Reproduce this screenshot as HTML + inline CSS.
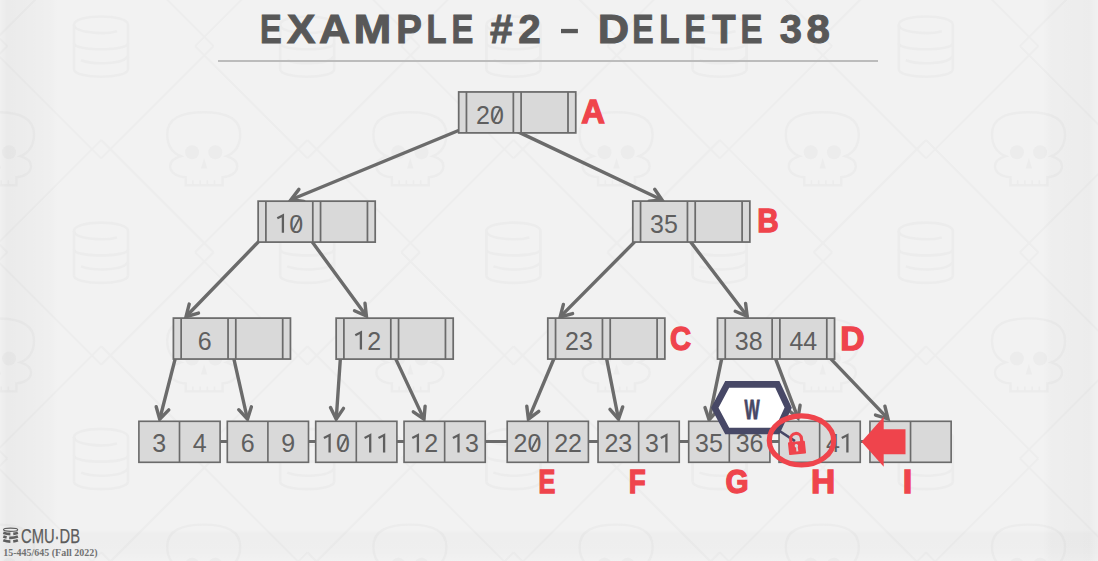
<!DOCTYPE html>
<html><head><meta charset="utf-8"><style>
html,body{margin:0;padding:0;}
body{width:1098px;height:561px;overflow:hidden;position:relative;background:#f2f2f2;font-family:"Liberation Sans",sans-serif;}
.title{position:absolute;left:0;top:0;width:1098px;text-align:center;}
.k{font-family:"Liberation Sans",sans-serif;font-size:25px;fill:#5f5f5f;text-anchor:middle;}
.lab{font-family:"Liberation Sans",sans-serif;font-weight:bold;font-size:32.4px;fill:#ef444c;stroke:#ef444c;stroke-width:1.3px;text-anchor:middle;}
.w{font-family:"Liberation Sans",sans-serif;font-weight:bold;font-size:27.6px;fill:#474866;stroke:#474866;stroke-width:0.9px;text-anchor:middle;}
.logo{font-family:"Liberation Sans",sans-serif;font-size:20.5px;fill:#5c5c5c;stroke:#5c5c5c;stroke-width:0.25px;}
.course{font-family:"Liberation Serif",serif;font-weight:bold;font-size:10.5px;fill:#727272;}
.ttl{font-family:"Liberation Sans",sans-serif;font-weight:bold;font-size:41.5px;fill:#585858;stroke:#585858;stroke-width:1px;}
</style></head><body>
<svg width="1098" height="561" viewBox="0 0 1098 561" style="position:absolute;left:0;top:0">
<defs><linearGradient id="lg" x1="0" x2="1" y1="0" y2="0">
<stop offset="0" stop-color="#000" stop-opacity="0.008"/><stop offset="0.12" stop-color="#000" stop-opacity="0.03"/><stop offset="0.5" stop-color="#000" stop-opacity="0.022"/><stop offset="0.85" stop-color="#000" stop-opacity="0.012"/><stop offset="1" stop-color="#000" stop-opacity="0"/></linearGradient>
<linearGradient id="rg" x1="1" x2="0" y1="0" y2="0"><stop offset="0" stop-color="#000" stop-opacity="0.004"/><stop offset="0.16" stop-color="#000" stop-opacity="0.024"/><stop offset="0.85" stop-color="#000" stop-opacity="0.016"/><stop offset="1" stop-color="#000" stop-opacity="0"/></linearGradient>
<linearGradient id="bg2" x1="0" x2="0" y1="0" y2="1"><stop offset="0" stop-color="#000" stop-opacity="0"/><stop offset="0.15" stop-color="#000" stop-opacity="0.018"/><stop offset="0.7" stop-color="#000" stop-opacity="0.014"/><stop offset="1" stop-color="#000" stop-opacity="0.002"/></linearGradient></defs>
<line x1="-105.0" y1="-66.2" x2="7.3" y2="46.1" stroke="#ededed" stroke-width="2"/>
<line x1="-105.0" y1="140.0" x2="7.3" y2="252.3" stroke="#ededed" stroke-width="2"/>
<line x1="7.3" y1="46.1" x2="-105.0" y2="158.4" stroke="#ededed" stroke-width="2"/>
<line x1="-105.0" y1="346.2" x2="7.3" y2="458.5" stroke="#ededed" stroke-width="2"/>
<line x1="7.3" y1="252.3" x2="-105.0" y2="364.6" stroke="#ededed" stroke-width="2"/>
<line x1="-105.0" y1="552.4" x2="7.3" y2="664.7" stroke="#ededed" stroke-width="2"/>
<line x1="7.3" y1="458.5" x2="-105.0" y2="570.8" stroke="#ededed" stroke-width="2"/>
<line x1="101.2" y1="-66.2" x2="213.5" y2="46.1" stroke="#ededed" stroke-width="2"/>
<line x1="101.2" y1="-66.2" x2="-11.1" y2="46.1" stroke="#ededed" stroke-width="2"/>
<line x1="101.2" y1="140.0" x2="213.5" y2="252.3" stroke="#ededed" stroke-width="2"/>
<line x1="-11.1" y1="46.1" x2="101.2" y2="158.4" stroke="#ededed" stroke-width="2"/>
<line x1="213.5" y1="46.1" x2="101.2" y2="158.4" stroke="#ededed" stroke-width="2"/>
<line x1="101.2" y1="140.0" x2="-11.1" y2="252.3" stroke="#ededed" stroke-width="2"/>
<line x1="101.2" y1="346.2" x2="213.5" y2="458.5" stroke="#ededed" stroke-width="2"/>
<line x1="-11.1" y1="252.3" x2="101.2" y2="364.6" stroke="#ededed" stroke-width="2"/>
<line x1="213.5" y1="252.3" x2="101.2" y2="364.6" stroke="#ededed" stroke-width="2"/>
<line x1="101.2" y1="346.2" x2="-11.1" y2="458.5" stroke="#ededed" stroke-width="2"/>
<line x1="101.2" y1="552.4" x2="213.5" y2="664.7" stroke="#ededed" stroke-width="2"/>
<line x1="-11.1" y1="458.5" x2="101.2" y2="570.8" stroke="#ededed" stroke-width="2"/>
<line x1="213.5" y1="458.5" x2="101.2" y2="570.8" stroke="#ededed" stroke-width="2"/>
<line x1="101.2" y1="552.4" x2="-11.1" y2="664.7" stroke="#ededed" stroke-width="2"/>
<line x1="307.4" y1="-66.2" x2="419.7" y2="46.1" stroke="#ededed" stroke-width="2"/>
<line x1="307.4" y1="-66.2" x2="195.1" y2="46.1" stroke="#ededed" stroke-width="2"/>
<line x1="307.4" y1="140.0" x2="419.7" y2="252.3" stroke="#ededed" stroke-width="2"/>
<line x1="195.1" y1="46.1" x2="307.4" y2="158.4" stroke="#ededed" stroke-width="2"/>
<line x1="419.7" y1="46.1" x2="307.4" y2="158.4" stroke="#ededed" stroke-width="2"/>
<line x1="307.4" y1="140.0" x2="195.1" y2="252.3" stroke="#ededed" stroke-width="2"/>
<line x1="307.4" y1="346.2" x2="419.7" y2="458.5" stroke="#ededed" stroke-width="2"/>
<line x1="195.1" y1="252.3" x2="307.4" y2="364.6" stroke="#ededed" stroke-width="2"/>
<line x1="419.7" y1="252.3" x2="307.4" y2="364.6" stroke="#ededed" stroke-width="2"/>
<line x1="307.4" y1="346.2" x2="195.1" y2="458.5" stroke="#ededed" stroke-width="2"/>
<line x1="307.4" y1="552.4" x2="419.7" y2="664.7" stroke="#ededed" stroke-width="2"/>
<line x1="195.1" y1="458.5" x2="307.4" y2="570.8" stroke="#ededed" stroke-width="2"/>
<line x1="419.7" y1="458.5" x2="307.4" y2="570.8" stroke="#ededed" stroke-width="2"/>
<line x1="307.4" y1="552.4" x2="195.1" y2="664.7" stroke="#ededed" stroke-width="2"/>
<line x1="513.6" y1="-66.2" x2="625.9" y2="46.1" stroke="#ededed" stroke-width="2"/>
<line x1="513.6" y1="-66.2" x2="401.3" y2="46.1" stroke="#ededed" stroke-width="2"/>
<line x1="513.6" y1="140.0" x2="625.9" y2="252.3" stroke="#ededed" stroke-width="2"/>
<line x1="401.3" y1="46.1" x2="513.6" y2="158.4" stroke="#ededed" stroke-width="2"/>
<line x1="625.9" y1="46.1" x2="513.6" y2="158.4" stroke="#ededed" stroke-width="2"/>
<line x1="513.6" y1="140.0" x2="401.3" y2="252.3" stroke="#ededed" stroke-width="2"/>
<line x1="513.6" y1="346.2" x2="625.9" y2="458.5" stroke="#ededed" stroke-width="2"/>
<line x1="401.3" y1="252.3" x2="513.6" y2="364.6" stroke="#ededed" stroke-width="2"/>
<line x1="625.9" y1="252.3" x2="513.6" y2="364.6" stroke="#ededed" stroke-width="2"/>
<line x1="513.6" y1="346.2" x2="401.3" y2="458.5" stroke="#ededed" stroke-width="2"/>
<line x1="513.6" y1="552.4" x2="625.9" y2="664.7" stroke="#ededed" stroke-width="2"/>
<line x1="401.3" y1="458.5" x2="513.6" y2="570.8" stroke="#ededed" stroke-width="2"/>
<line x1="625.9" y1="458.5" x2="513.6" y2="570.8" stroke="#ededed" stroke-width="2"/>
<line x1="513.6" y1="552.4" x2="401.3" y2="664.7" stroke="#ededed" stroke-width="2"/>
<line x1="719.8" y1="-66.2" x2="832.1" y2="46.1" stroke="#ededed" stroke-width="2"/>
<line x1="719.8" y1="-66.2" x2="607.5" y2="46.1" stroke="#ededed" stroke-width="2"/>
<line x1="719.8" y1="140.0" x2="832.1" y2="252.3" stroke="#ededed" stroke-width="2"/>
<line x1="607.5" y1="46.1" x2="719.8" y2="158.4" stroke="#ededed" stroke-width="2"/>
<line x1="832.1" y1="46.1" x2="719.8" y2="158.4" stroke="#ededed" stroke-width="2"/>
<line x1="719.8" y1="140.0" x2="607.5" y2="252.3" stroke="#ededed" stroke-width="2"/>
<line x1="719.8" y1="346.2" x2="832.1" y2="458.5" stroke="#ededed" stroke-width="2"/>
<line x1="607.5" y1="252.3" x2="719.8" y2="364.6" stroke="#ededed" stroke-width="2"/>
<line x1="832.1" y1="252.3" x2="719.8" y2="364.6" stroke="#ededed" stroke-width="2"/>
<line x1="719.8" y1="346.2" x2="607.5" y2="458.5" stroke="#ededed" stroke-width="2"/>
<line x1="719.8" y1="552.4" x2="832.1" y2="664.7" stroke="#ededed" stroke-width="2"/>
<line x1="607.5" y1="458.5" x2="719.8" y2="570.8" stroke="#ededed" stroke-width="2"/>
<line x1="832.1" y1="458.5" x2="719.8" y2="570.8" stroke="#ededed" stroke-width="2"/>
<line x1="719.8" y1="552.4" x2="607.5" y2="664.7" stroke="#ededed" stroke-width="2"/>
<line x1="926.0" y1="-66.2" x2="1038.3" y2="46.1" stroke="#ededed" stroke-width="2"/>
<line x1="926.0" y1="-66.2" x2="813.7" y2="46.1" stroke="#ededed" stroke-width="2"/>
<line x1="926.0" y1="140.0" x2="1038.3" y2="252.3" stroke="#ededed" stroke-width="2"/>
<line x1="813.7" y1="46.1" x2="926.0" y2="158.4" stroke="#ededed" stroke-width="2"/>
<line x1="1038.3" y1="46.1" x2="926.0" y2="158.4" stroke="#ededed" stroke-width="2"/>
<line x1="926.0" y1="140.0" x2="813.7" y2="252.3" stroke="#ededed" stroke-width="2"/>
<line x1="926.0" y1="346.2" x2="1038.3" y2="458.5" stroke="#ededed" stroke-width="2"/>
<line x1="813.7" y1="252.3" x2="926.0" y2="364.6" stroke="#ededed" stroke-width="2"/>
<line x1="1038.3" y1="252.3" x2="926.0" y2="364.6" stroke="#ededed" stroke-width="2"/>
<line x1="926.0" y1="346.2" x2="813.7" y2="458.5" stroke="#ededed" stroke-width="2"/>
<line x1="926.0" y1="552.4" x2="1038.3" y2="664.7" stroke="#ededed" stroke-width="2"/>
<line x1="813.7" y1="458.5" x2="926.0" y2="570.8" stroke="#ededed" stroke-width="2"/>
<line x1="1038.3" y1="458.5" x2="926.0" y2="570.8" stroke="#ededed" stroke-width="2"/>
<line x1="926.0" y1="552.4" x2="813.7" y2="664.7" stroke="#ededed" stroke-width="2"/>
<line x1="1132.2" y1="-66.2" x2="1019.9" y2="46.1" stroke="#ededed" stroke-width="2"/>
<line x1="1019.9" y1="46.1" x2="1132.2" y2="158.4" stroke="#ededed" stroke-width="2"/>
<line x1="1132.2" y1="140.0" x2="1019.9" y2="252.3" stroke="#ededed" stroke-width="2"/>
<line x1="1019.9" y1="252.3" x2="1132.2" y2="364.6" stroke="#ededed" stroke-width="2"/>
<line x1="1132.2" y1="346.2" x2="1019.9" y2="458.5" stroke="#ededed" stroke-width="2"/>
<line x1="1019.9" y1="458.5" x2="1132.2" y2="570.8" stroke="#ededed" stroke-width="2"/>
<line x1="1132.2" y1="552.4" x2="1019.9" y2="664.7" stroke="#ededed" stroke-width="2"/>
<g transform="translate(-39.0,-94.0)"><path d="M13.7 44 C4 40 0 32 0 22 C0 6 14 0 36.5 0 C59 0 73 6 73 22 C73 32 69 40 59.3 44 C66 46 70 49 70 54 C70 60 64 64.5 55.4 65 L55.4 73 L18.5 73 L18.5 65 C9 64.5 3 60 3 54 C3 49 7 46 13.7 44 Z" fill="none" stroke="#ececec" stroke-width="2.4"/><circle cx="24.9" cy="40.1" r="7" fill="#ececec"/><circle cx="48.1" cy="40.1" r="7" fill="#ececec"/><path d="M36.9 45.7 L33.7 56.2 L40.1 56.2 Z" fill="#ececec"/><path d="M25.7 73 v-5 M32.9 73 v-5 M40.1 73 v-5 M47.3 73 v-5" stroke="#ececec" stroke-width="1.5"/></g>
<g transform="translate(-39.0,112.2)"><path d="M13.7 44 C4 40 0 32 0 22 C0 6 14 0 36.5 0 C59 0 73 6 73 22 C73 32 69 40 59.3 44 C66 46 70 49 70 54 C70 60 64 64.5 55.4 65 L55.4 73 L18.5 73 L18.5 65 C9 64.5 3 60 3 54 C3 49 7 46 13.7 44 Z" fill="none" stroke="#ececec" stroke-width="2.4"/><circle cx="24.9" cy="40.1" r="7" fill="#ececec"/><circle cx="48.1" cy="40.1" r="7" fill="#ececec"/><path d="M36.9 45.7 L33.7 56.2 L40.1 56.2 Z" fill="#ececec"/><path d="M25.7 73 v-5 M32.9 73 v-5 M40.1 73 v-5 M47.3 73 v-5" stroke="#ececec" stroke-width="1.5"/></g>
<g transform="translate(-39.0,318.4)"><path d="M13.7 44 C4 40 0 32 0 22 C0 6 14 0 36.5 0 C59 0 73 6 73 22 C73 32 69 40 59.3 44 C66 46 70 49 70 54 C70 60 64 64.5 55.4 65 L55.4 73 L18.5 73 L18.5 65 C9 64.5 3 60 3 54 C3 49 7 46 13.7 44 Z" fill="none" stroke="#ececec" stroke-width="2.4"/><circle cx="24.9" cy="40.1" r="7" fill="#ececec"/><circle cx="48.1" cy="40.1" r="7" fill="#ececec"/><path d="M36.9 45.7 L33.7 56.2 L40.1 56.2 Z" fill="#ececec"/><path d="M25.7 73 v-5 M32.9 73 v-5 M40.1 73 v-5 M47.3 73 v-5" stroke="#ececec" stroke-width="1.5"/></g>
<g transform="translate(-39.0,524.6)"><path d="M13.7 44 C4 40 0 32 0 22 C0 6 14 0 36.5 0 C59 0 73 6 73 22 C73 32 69 40 59.3 44 C66 46 70 49 70 54 C70 60 64 64.5 55.4 65 L55.4 73 L18.5 73 L18.5 65 C9 64.5 3 60 3 54 C3 49 7 46 13.7 44 Z" fill="none" stroke="#ececec" stroke-width="2.4"/><circle cx="24.9" cy="40.1" r="7" fill="#ececec"/><circle cx="48.1" cy="40.1" r="7" fill="#ececec"/><path d="M36.9 45.7 L33.7 56.2 L40.1 56.2 Z" fill="#ececec"/><path d="M25.7 73 v-5 M32.9 73 v-5 M40.1 73 v-5 M47.3 73 v-5" stroke="#ececec" stroke-width="1.5"/></g>
<g transform="translate(167.2,-94.0)"><path d="M13.7 44 C4 40 0 32 0 22 C0 6 14 0 36.5 0 C59 0 73 6 73 22 C73 32 69 40 59.3 44 C66 46 70 49 70 54 C70 60 64 64.5 55.4 65 L55.4 73 L18.5 73 L18.5 65 C9 64.5 3 60 3 54 C3 49 7 46 13.7 44 Z" fill="none" stroke="#ececec" stroke-width="2.4"/><circle cx="24.9" cy="40.1" r="7" fill="#ececec"/><circle cx="48.1" cy="40.1" r="7" fill="#ececec"/><path d="M36.9 45.7 L33.7 56.2 L40.1 56.2 Z" fill="#ececec"/><path d="M25.7 73 v-5 M32.9 73 v-5 M40.1 73 v-5 M47.3 73 v-5" stroke="#ececec" stroke-width="1.5"/></g>
<g transform="translate(73.0,15.2)"><g fill="none" stroke="#ececec" stroke-width="2.6"><path d="M1 9.5 C1 -1.5 55 -1.5 55 9.5"/><path d="M1 9.5 C1 17 30 20 44 16"/><path d="M1 28 C1 36 55 36 55 28"/><path d="M8 45 C22 50 50 49 55 41"/><path d="M1 54 C1 64 55 64 55 54"/><path d="M1 9.5 V54 M55 9.5 V54"/></g></g>
<g transform="translate(167.2,112.2)"><path d="M13.7 44 C4 40 0 32 0 22 C0 6 14 0 36.5 0 C59 0 73 6 73 22 C73 32 69 40 59.3 44 C66 46 70 49 70 54 C70 60 64 64.5 55.4 65 L55.4 73 L18.5 73 L18.5 65 C9 64.5 3 60 3 54 C3 49 7 46 13.7 44 Z" fill="none" stroke="#ececec" stroke-width="2.4"/><circle cx="24.9" cy="40.1" r="7" fill="#ececec"/><circle cx="48.1" cy="40.1" r="7" fill="#ececec"/><path d="M36.9 45.7 L33.7 56.2 L40.1 56.2 Z" fill="#ececec"/><path d="M25.7 73 v-5 M32.9 73 v-5 M40.1 73 v-5 M47.3 73 v-5" stroke="#ececec" stroke-width="1.5"/></g>
<g transform="translate(73.0,221.4)"><g fill="none" stroke="#ececec" stroke-width="2.6"><path d="M1 9.5 C1 -1.5 55 -1.5 55 9.5"/><path d="M1 9.5 C1 17 30 20 44 16"/><path d="M1 28 C1 36 55 36 55 28"/><path d="M8 45 C22 50 50 49 55 41"/><path d="M1 54 C1 64 55 64 55 54"/><path d="M1 9.5 V54 M55 9.5 V54"/></g></g>
<g transform="translate(167.2,318.4)"><path d="M13.7 44 C4 40 0 32 0 22 C0 6 14 0 36.5 0 C59 0 73 6 73 22 C73 32 69 40 59.3 44 C66 46 70 49 70 54 C70 60 64 64.5 55.4 65 L55.4 73 L18.5 73 L18.5 65 C9 64.5 3 60 3 54 C3 49 7 46 13.7 44 Z" fill="none" stroke="#ececec" stroke-width="2.4"/><circle cx="24.9" cy="40.1" r="7" fill="#ececec"/><circle cx="48.1" cy="40.1" r="7" fill="#ececec"/><path d="M36.9 45.7 L33.7 56.2 L40.1 56.2 Z" fill="#ececec"/><path d="M25.7 73 v-5 M32.9 73 v-5 M40.1 73 v-5 M47.3 73 v-5" stroke="#ececec" stroke-width="1.5"/></g>
<g transform="translate(73.0,427.6)"><g fill="none" stroke="#ececec" stroke-width="2.6"><path d="M1 9.5 C1 -1.5 55 -1.5 55 9.5"/><path d="M1 9.5 C1 17 30 20 44 16"/><path d="M1 28 C1 36 55 36 55 28"/><path d="M8 45 C22 50 50 49 55 41"/><path d="M1 54 C1 64 55 64 55 54"/><path d="M1 9.5 V54 M55 9.5 V54"/></g></g>
<g transform="translate(167.2,524.6)"><path d="M13.7 44 C4 40 0 32 0 22 C0 6 14 0 36.5 0 C59 0 73 6 73 22 C73 32 69 40 59.3 44 C66 46 70 49 70 54 C70 60 64 64.5 55.4 65 L55.4 73 L18.5 73 L18.5 65 C9 64.5 3 60 3 54 C3 49 7 46 13.7 44 Z" fill="none" stroke="#ececec" stroke-width="2.4"/><circle cx="24.9" cy="40.1" r="7" fill="#ececec"/><circle cx="48.1" cy="40.1" r="7" fill="#ececec"/><path d="M36.9 45.7 L33.7 56.2 L40.1 56.2 Z" fill="#ececec"/><path d="M25.7 73 v-5 M32.9 73 v-5 M40.1 73 v-5 M47.3 73 v-5" stroke="#ececec" stroke-width="1.5"/></g>
<g transform="translate(373.4,-94.0)"><path d="M13.7 44 C4 40 0 32 0 22 C0 6 14 0 36.5 0 C59 0 73 6 73 22 C73 32 69 40 59.3 44 C66 46 70 49 70 54 C70 60 64 64.5 55.4 65 L55.4 73 L18.5 73 L18.5 65 C9 64.5 3 60 3 54 C3 49 7 46 13.7 44 Z" fill="none" stroke="#ececec" stroke-width="2.4"/><circle cx="24.9" cy="40.1" r="7" fill="#ececec"/><circle cx="48.1" cy="40.1" r="7" fill="#ececec"/><path d="M36.9 45.7 L33.7 56.2 L40.1 56.2 Z" fill="#ececec"/><path d="M25.7 73 v-5 M32.9 73 v-5 M40.1 73 v-5 M47.3 73 v-5" stroke="#ececec" stroke-width="1.5"/></g>
<g transform="translate(279.2,15.2)"><g fill="none" stroke="#ececec" stroke-width="2.6"><path d="M1 9.5 C1 -1.5 55 -1.5 55 9.5"/><path d="M1 9.5 C1 17 30 20 44 16"/><path d="M1 28 C1 36 55 36 55 28"/><path d="M8 45 C22 50 50 49 55 41"/><path d="M1 54 C1 64 55 64 55 54"/><path d="M1 9.5 V54 M55 9.5 V54"/></g></g>
<g transform="translate(373.4,112.2)"><path d="M13.7 44 C4 40 0 32 0 22 C0 6 14 0 36.5 0 C59 0 73 6 73 22 C73 32 69 40 59.3 44 C66 46 70 49 70 54 C70 60 64 64.5 55.4 65 L55.4 73 L18.5 73 L18.5 65 C9 64.5 3 60 3 54 C3 49 7 46 13.7 44 Z" fill="none" stroke="#ececec" stroke-width="2.4"/><circle cx="24.9" cy="40.1" r="7" fill="#ececec"/><circle cx="48.1" cy="40.1" r="7" fill="#ececec"/><path d="M36.9 45.7 L33.7 56.2 L40.1 56.2 Z" fill="#ececec"/><path d="M25.7 73 v-5 M32.9 73 v-5 M40.1 73 v-5 M47.3 73 v-5" stroke="#ececec" stroke-width="1.5"/></g>
<g transform="translate(279.2,221.4)"><g fill="none" stroke="#ececec" stroke-width="2.6"><path d="M1 9.5 C1 -1.5 55 -1.5 55 9.5"/><path d="M1 9.5 C1 17 30 20 44 16"/><path d="M1 28 C1 36 55 36 55 28"/><path d="M8 45 C22 50 50 49 55 41"/><path d="M1 54 C1 64 55 64 55 54"/><path d="M1 9.5 V54 M55 9.5 V54"/></g></g>
<g transform="translate(373.4,318.4)"><path d="M13.7 44 C4 40 0 32 0 22 C0 6 14 0 36.5 0 C59 0 73 6 73 22 C73 32 69 40 59.3 44 C66 46 70 49 70 54 C70 60 64 64.5 55.4 65 L55.4 73 L18.5 73 L18.5 65 C9 64.5 3 60 3 54 C3 49 7 46 13.7 44 Z" fill="none" stroke="#ececec" stroke-width="2.4"/><circle cx="24.9" cy="40.1" r="7" fill="#ececec"/><circle cx="48.1" cy="40.1" r="7" fill="#ececec"/><path d="M36.9 45.7 L33.7 56.2 L40.1 56.2 Z" fill="#ececec"/><path d="M25.7 73 v-5 M32.9 73 v-5 M40.1 73 v-5 M47.3 73 v-5" stroke="#ececec" stroke-width="1.5"/></g>
<g transform="translate(279.2,427.6)"><g fill="none" stroke="#ececec" stroke-width="2.6"><path d="M1 9.5 C1 -1.5 55 -1.5 55 9.5"/><path d="M1 9.5 C1 17 30 20 44 16"/><path d="M1 28 C1 36 55 36 55 28"/><path d="M8 45 C22 50 50 49 55 41"/><path d="M1 54 C1 64 55 64 55 54"/><path d="M1 9.5 V54 M55 9.5 V54"/></g></g>
<g transform="translate(373.4,524.6)"><path d="M13.7 44 C4 40 0 32 0 22 C0 6 14 0 36.5 0 C59 0 73 6 73 22 C73 32 69 40 59.3 44 C66 46 70 49 70 54 C70 60 64 64.5 55.4 65 L55.4 73 L18.5 73 L18.5 65 C9 64.5 3 60 3 54 C3 49 7 46 13.7 44 Z" fill="none" stroke="#ececec" stroke-width="2.4"/><circle cx="24.9" cy="40.1" r="7" fill="#ececec"/><circle cx="48.1" cy="40.1" r="7" fill="#ececec"/><path d="M36.9 45.7 L33.7 56.2 L40.1 56.2 Z" fill="#ececec"/><path d="M25.7 73 v-5 M32.9 73 v-5 M40.1 73 v-5 M47.3 73 v-5" stroke="#ececec" stroke-width="1.5"/></g>
<g transform="translate(579.6,-94.0)"><path d="M13.7 44 C4 40 0 32 0 22 C0 6 14 0 36.5 0 C59 0 73 6 73 22 C73 32 69 40 59.3 44 C66 46 70 49 70 54 C70 60 64 64.5 55.4 65 L55.4 73 L18.5 73 L18.5 65 C9 64.5 3 60 3 54 C3 49 7 46 13.7 44 Z" fill="none" stroke="#ececec" stroke-width="2.4"/><circle cx="24.9" cy="40.1" r="7" fill="#ececec"/><circle cx="48.1" cy="40.1" r="7" fill="#ececec"/><path d="M36.9 45.7 L33.7 56.2 L40.1 56.2 Z" fill="#ececec"/><path d="M25.7 73 v-5 M32.9 73 v-5 M40.1 73 v-5 M47.3 73 v-5" stroke="#ececec" stroke-width="1.5"/></g>
<g transform="translate(485.4,15.2)"><g fill="none" stroke="#ececec" stroke-width="2.6"><path d="M1 9.5 C1 -1.5 55 -1.5 55 9.5"/><path d="M1 9.5 C1 17 30 20 44 16"/><path d="M1 28 C1 36 55 36 55 28"/><path d="M8 45 C22 50 50 49 55 41"/><path d="M1 54 C1 64 55 64 55 54"/><path d="M1 9.5 V54 M55 9.5 V54"/></g></g>
<g transform="translate(579.6,112.2)"><path d="M13.7 44 C4 40 0 32 0 22 C0 6 14 0 36.5 0 C59 0 73 6 73 22 C73 32 69 40 59.3 44 C66 46 70 49 70 54 C70 60 64 64.5 55.4 65 L55.4 73 L18.5 73 L18.5 65 C9 64.5 3 60 3 54 C3 49 7 46 13.7 44 Z" fill="none" stroke="#ececec" stroke-width="2.4"/><circle cx="24.9" cy="40.1" r="7" fill="#ececec"/><circle cx="48.1" cy="40.1" r="7" fill="#ececec"/><path d="M36.9 45.7 L33.7 56.2 L40.1 56.2 Z" fill="#ececec"/><path d="M25.7 73 v-5 M32.9 73 v-5 M40.1 73 v-5 M47.3 73 v-5" stroke="#ececec" stroke-width="1.5"/></g>
<g transform="translate(485.4,221.4)"><g fill="none" stroke="#ececec" stroke-width="2.6"><path d="M1 9.5 C1 -1.5 55 -1.5 55 9.5"/><path d="M1 9.5 C1 17 30 20 44 16"/><path d="M1 28 C1 36 55 36 55 28"/><path d="M8 45 C22 50 50 49 55 41"/><path d="M1 54 C1 64 55 64 55 54"/><path d="M1 9.5 V54 M55 9.5 V54"/></g></g>
<g transform="translate(579.6,318.4)"><path d="M13.7 44 C4 40 0 32 0 22 C0 6 14 0 36.5 0 C59 0 73 6 73 22 C73 32 69 40 59.3 44 C66 46 70 49 70 54 C70 60 64 64.5 55.4 65 L55.4 73 L18.5 73 L18.5 65 C9 64.5 3 60 3 54 C3 49 7 46 13.7 44 Z" fill="none" stroke="#ececec" stroke-width="2.4"/><circle cx="24.9" cy="40.1" r="7" fill="#ececec"/><circle cx="48.1" cy="40.1" r="7" fill="#ececec"/><path d="M36.9 45.7 L33.7 56.2 L40.1 56.2 Z" fill="#ececec"/><path d="M25.7 73 v-5 M32.9 73 v-5 M40.1 73 v-5 M47.3 73 v-5" stroke="#ececec" stroke-width="1.5"/></g>
<g transform="translate(485.4,427.6)"><g fill="none" stroke="#ececec" stroke-width="2.6"><path d="M1 9.5 C1 -1.5 55 -1.5 55 9.5"/><path d="M1 9.5 C1 17 30 20 44 16"/><path d="M1 28 C1 36 55 36 55 28"/><path d="M8 45 C22 50 50 49 55 41"/><path d="M1 54 C1 64 55 64 55 54"/><path d="M1 9.5 V54 M55 9.5 V54"/></g></g>
<g transform="translate(579.6,524.6)"><path d="M13.7 44 C4 40 0 32 0 22 C0 6 14 0 36.5 0 C59 0 73 6 73 22 C73 32 69 40 59.3 44 C66 46 70 49 70 54 C70 60 64 64.5 55.4 65 L55.4 73 L18.5 73 L18.5 65 C9 64.5 3 60 3 54 C3 49 7 46 13.7 44 Z" fill="none" stroke="#ececec" stroke-width="2.4"/><circle cx="24.9" cy="40.1" r="7" fill="#ececec"/><circle cx="48.1" cy="40.1" r="7" fill="#ececec"/><path d="M36.9 45.7 L33.7 56.2 L40.1 56.2 Z" fill="#ececec"/><path d="M25.7 73 v-5 M32.9 73 v-5 M40.1 73 v-5 M47.3 73 v-5" stroke="#ececec" stroke-width="1.5"/></g>
<g transform="translate(785.8,-94.0)"><path d="M13.7 44 C4 40 0 32 0 22 C0 6 14 0 36.5 0 C59 0 73 6 73 22 C73 32 69 40 59.3 44 C66 46 70 49 70 54 C70 60 64 64.5 55.4 65 L55.4 73 L18.5 73 L18.5 65 C9 64.5 3 60 3 54 C3 49 7 46 13.7 44 Z" fill="none" stroke="#ececec" stroke-width="2.4"/><circle cx="24.9" cy="40.1" r="7" fill="#ececec"/><circle cx="48.1" cy="40.1" r="7" fill="#ececec"/><path d="M36.9 45.7 L33.7 56.2 L40.1 56.2 Z" fill="#ececec"/><path d="M25.7 73 v-5 M32.9 73 v-5 M40.1 73 v-5 M47.3 73 v-5" stroke="#ececec" stroke-width="1.5"/></g>
<g transform="translate(691.6,15.2)"><g fill="none" stroke="#ececec" stroke-width="2.6"><path d="M1 9.5 C1 -1.5 55 -1.5 55 9.5"/><path d="M1 9.5 C1 17 30 20 44 16"/><path d="M1 28 C1 36 55 36 55 28"/><path d="M8 45 C22 50 50 49 55 41"/><path d="M1 54 C1 64 55 64 55 54"/><path d="M1 9.5 V54 M55 9.5 V54"/></g></g>
<g transform="translate(785.8,112.2)"><path d="M13.7 44 C4 40 0 32 0 22 C0 6 14 0 36.5 0 C59 0 73 6 73 22 C73 32 69 40 59.3 44 C66 46 70 49 70 54 C70 60 64 64.5 55.4 65 L55.4 73 L18.5 73 L18.5 65 C9 64.5 3 60 3 54 C3 49 7 46 13.7 44 Z" fill="none" stroke="#ececec" stroke-width="2.4"/><circle cx="24.9" cy="40.1" r="7" fill="#ececec"/><circle cx="48.1" cy="40.1" r="7" fill="#ececec"/><path d="M36.9 45.7 L33.7 56.2 L40.1 56.2 Z" fill="#ececec"/><path d="M25.7 73 v-5 M32.9 73 v-5 M40.1 73 v-5 M47.3 73 v-5" stroke="#ececec" stroke-width="1.5"/></g>
<g transform="translate(691.6,221.4)"><g fill="none" stroke="#ececec" stroke-width="2.6"><path d="M1 9.5 C1 -1.5 55 -1.5 55 9.5"/><path d="M1 9.5 C1 17 30 20 44 16"/><path d="M1 28 C1 36 55 36 55 28"/><path d="M8 45 C22 50 50 49 55 41"/><path d="M1 54 C1 64 55 64 55 54"/><path d="M1 9.5 V54 M55 9.5 V54"/></g></g>
<g transform="translate(785.8,318.4)"><path d="M13.7 44 C4 40 0 32 0 22 C0 6 14 0 36.5 0 C59 0 73 6 73 22 C73 32 69 40 59.3 44 C66 46 70 49 70 54 C70 60 64 64.5 55.4 65 L55.4 73 L18.5 73 L18.5 65 C9 64.5 3 60 3 54 C3 49 7 46 13.7 44 Z" fill="none" stroke="#ececec" stroke-width="2.4"/><circle cx="24.9" cy="40.1" r="7" fill="#ececec"/><circle cx="48.1" cy="40.1" r="7" fill="#ececec"/><path d="M36.9 45.7 L33.7 56.2 L40.1 56.2 Z" fill="#ececec"/><path d="M25.7 73 v-5 M32.9 73 v-5 M40.1 73 v-5 M47.3 73 v-5" stroke="#ececec" stroke-width="1.5"/></g>
<g transform="translate(691.6,427.6)"><g fill="none" stroke="#ececec" stroke-width="2.6"><path d="M1 9.5 C1 -1.5 55 -1.5 55 9.5"/><path d="M1 9.5 C1 17 30 20 44 16"/><path d="M1 28 C1 36 55 36 55 28"/><path d="M8 45 C22 50 50 49 55 41"/><path d="M1 54 C1 64 55 64 55 54"/><path d="M1 9.5 V54 M55 9.5 V54"/></g></g>
<g transform="translate(785.8,524.6)"><path d="M13.7 44 C4 40 0 32 0 22 C0 6 14 0 36.5 0 C59 0 73 6 73 22 C73 32 69 40 59.3 44 C66 46 70 49 70 54 C70 60 64 64.5 55.4 65 L55.4 73 L18.5 73 L18.5 65 C9 64.5 3 60 3 54 C3 49 7 46 13.7 44 Z" fill="none" stroke="#ececec" stroke-width="2.4"/><circle cx="24.9" cy="40.1" r="7" fill="#ececec"/><circle cx="48.1" cy="40.1" r="7" fill="#ececec"/><path d="M36.9 45.7 L33.7 56.2 L40.1 56.2 Z" fill="#ececec"/><path d="M25.7 73 v-5 M32.9 73 v-5 M40.1 73 v-5 M47.3 73 v-5" stroke="#ececec" stroke-width="1.5"/></g>
<g transform="translate(992.0,-94.0)"><path d="M13.7 44 C4 40 0 32 0 22 C0 6 14 0 36.5 0 C59 0 73 6 73 22 C73 32 69 40 59.3 44 C66 46 70 49 70 54 C70 60 64 64.5 55.4 65 L55.4 73 L18.5 73 L18.5 65 C9 64.5 3 60 3 54 C3 49 7 46 13.7 44 Z" fill="none" stroke="#ececec" stroke-width="2.4"/><circle cx="24.9" cy="40.1" r="7" fill="#ececec"/><circle cx="48.1" cy="40.1" r="7" fill="#ececec"/><path d="M36.9 45.7 L33.7 56.2 L40.1 56.2 Z" fill="#ececec"/><path d="M25.7 73 v-5 M32.9 73 v-5 M40.1 73 v-5 M47.3 73 v-5" stroke="#ececec" stroke-width="1.5"/></g>
<g transform="translate(897.8,15.2)"><g fill="none" stroke="#ececec" stroke-width="2.6"><path d="M1 9.5 C1 -1.5 55 -1.5 55 9.5"/><path d="M1 9.5 C1 17 30 20 44 16"/><path d="M1 28 C1 36 55 36 55 28"/><path d="M8 45 C22 50 50 49 55 41"/><path d="M1 54 C1 64 55 64 55 54"/><path d="M1 9.5 V54 M55 9.5 V54"/></g></g>
<g transform="translate(992.0,112.2)"><path d="M13.7 44 C4 40 0 32 0 22 C0 6 14 0 36.5 0 C59 0 73 6 73 22 C73 32 69 40 59.3 44 C66 46 70 49 70 54 C70 60 64 64.5 55.4 65 L55.4 73 L18.5 73 L18.5 65 C9 64.5 3 60 3 54 C3 49 7 46 13.7 44 Z" fill="none" stroke="#ececec" stroke-width="2.4"/><circle cx="24.9" cy="40.1" r="7" fill="#ececec"/><circle cx="48.1" cy="40.1" r="7" fill="#ececec"/><path d="M36.9 45.7 L33.7 56.2 L40.1 56.2 Z" fill="#ececec"/><path d="M25.7 73 v-5 M32.9 73 v-5 M40.1 73 v-5 M47.3 73 v-5" stroke="#ececec" stroke-width="1.5"/></g>
<g transform="translate(897.8,221.4)"><g fill="none" stroke="#ececec" stroke-width="2.6"><path d="M1 9.5 C1 -1.5 55 -1.5 55 9.5"/><path d="M1 9.5 C1 17 30 20 44 16"/><path d="M1 28 C1 36 55 36 55 28"/><path d="M8 45 C22 50 50 49 55 41"/><path d="M1 54 C1 64 55 64 55 54"/><path d="M1 9.5 V54 M55 9.5 V54"/></g></g>
<g transform="translate(992.0,318.4)"><path d="M13.7 44 C4 40 0 32 0 22 C0 6 14 0 36.5 0 C59 0 73 6 73 22 C73 32 69 40 59.3 44 C66 46 70 49 70 54 C70 60 64 64.5 55.4 65 L55.4 73 L18.5 73 L18.5 65 C9 64.5 3 60 3 54 C3 49 7 46 13.7 44 Z" fill="none" stroke="#ececec" stroke-width="2.4"/><circle cx="24.9" cy="40.1" r="7" fill="#ececec"/><circle cx="48.1" cy="40.1" r="7" fill="#ececec"/><path d="M36.9 45.7 L33.7 56.2 L40.1 56.2 Z" fill="#ececec"/><path d="M25.7 73 v-5 M32.9 73 v-5 M40.1 73 v-5 M47.3 73 v-5" stroke="#ececec" stroke-width="1.5"/></g>
<g transform="translate(897.8,427.6)"><g fill="none" stroke="#ececec" stroke-width="2.6"><path d="M1 9.5 C1 -1.5 55 -1.5 55 9.5"/><path d="M1 9.5 C1 17 30 20 44 16"/><path d="M1 28 C1 36 55 36 55 28"/><path d="M8 45 C22 50 50 49 55 41"/><path d="M1 54 C1 64 55 64 55 54"/><path d="M1 9.5 V54 M55 9.5 V54"/></g></g>
<g transform="translate(992.0,524.6)"><path d="M13.7 44 C4 40 0 32 0 22 C0 6 14 0 36.5 0 C59 0 73 6 73 22 C73 32 69 40 59.3 44 C66 46 70 49 70 54 C70 60 64 64.5 55.4 65 L55.4 73 L18.5 73 L18.5 65 C9 64.5 3 60 3 54 C3 49 7 46 13.7 44 Z" fill="none" stroke="#ececec" stroke-width="2.4"/><circle cx="24.9" cy="40.1" r="7" fill="#ececec"/><circle cx="48.1" cy="40.1" r="7" fill="#ececec"/><path d="M36.9 45.7 L33.7 56.2 L40.1 56.2 Z" fill="#ececec"/><path d="M25.7 73 v-5 M32.9 73 v-5 M40.1 73 v-5 M47.3 73 v-5" stroke="#ececec" stroke-width="1.5"/></g>
<g transform="translate(1104.0,15.2)"><g fill="none" stroke="#ececec" stroke-width="2.6"><path d="M1 9.5 C1 -1.5 55 -1.5 55 9.5"/><path d="M1 9.5 C1 17 30 20 44 16"/><path d="M1 28 C1 36 55 36 55 28"/><path d="M8 45 C22 50 50 49 55 41"/><path d="M1 54 C1 64 55 64 55 54"/><path d="M1 9.5 V54 M55 9.5 V54"/></g></g>
<g transform="translate(1104.0,221.4)"><g fill="none" stroke="#ececec" stroke-width="2.6"><path d="M1 9.5 C1 -1.5 55 -1.5 55 9.5"/><path d="M1 9.5 C1 17 30 20 44 16"/><path d="M1 28 C1 36 55 36 55 28"/><path d="M8 45 C22 50 50 49 55 41"/><path d="M1 54 C1 64 55 64 55 54"/><path d="M1 9.5 V54 M55 9.5 V54"/></g></g>
<g transform="translate(1104.0,427.6)"><g fill="none" stroke="#ececec" stroke-width="2.6"><path d="M1 9.5 C1 -1.5 55 -1.5 55 9.5"/><path d="M1 9.5 C1 17 30 20 44 16"/><path d="M1 28 C1 36 55 36 55 28"/><path d="M8 45 C22 50 50 49 55 41"/><path d="M1 54 C1 64 55 64 55 54"/><path d="M1 9.5 V54 M55 9.5 V54"/></g></g>
<rect x="0" y="0" width="58" height="561" fill="url(#lg)"/>
<rect x="1043" y="0" width="55" height="561" fill="url(#rg)"/>
<rect x="0" y="529" width="1098" height="32" fill="url(#bg2)"/>
<rect x="218" y="60" width="660" height="2" fill="#bcbcbc"/>
<rect x="220.1" y="440" width="7.2" height="3" fill="#6b6b6b"/>
<rect x="308.5" y="440" width="7.2" height="3" fill="#6b6b6b"/>
<rect x="396.9" y="440" width="7.2" height="3" fill="#6b6b6b"/>
<rect x="485.2" y="440" width="21.9" height="3" fill="#6b6b6b"/>
<rect x="588.4" y="440" width="9.6" height="3" fill="#6b6b6b"/>
<rect x="679.2" y="440" width="9.5" height="3" fill="#6b6b6b"/>
<rect x="769.9" y="440" width="9.1" height="3" fill="#6b6b6b"/>
<rect x="860.2" y="440" width="9.7" height="3" fill="#6b6b6b"/>
<line x1="464.0" y1="128.2" x2="292.1" y2="199.2" stroke="#6b6b6b" stroke-width="3.4" stroke-linecap="round"/>
<polyline points="303.9,201.4 291.0,199.7 298.9,189.4" fill="none" stroke="#6b6b6b" stroke-width="3.4" stroke-linecap="round" stroke-linejoin="miter"/>
<line x1="515.5" y1="130.6" x2="661.0" y2="199.5" stroke="#6b6b6b" stroke-width="3.4" stroke-linecap="round"/>
<polyline points="654.7,189.3 662.1,200.0 649.1,201.1" fill="none" stroke="#6b6b6b" stroke-width="3.4" stroke-linecap="round" stroke-linejoin="miter"/>
<line x1="262.4" y1="237.7" x2="186.8" y2="315.8" stroke="#6b6b6b" stroke-width="3.4" stroke-linecap="round"/>
<polyline points="198.5,313.1 186.0,316.7 189.2,304.1" fill="none" stroke="#6b6b6b" stroke-width="3.4" stroke-linecap="round" stroke-linejoin="miter"/>
<line x1="309.2" y1="237.8" x2="365.7" y2="315.1" stroke="#6b6b6b" stroke-width="3.4" stroke-linecap="round"/>
<polyline points="365.0,303.2 366.4,316.1 354.5,310.8" fill="none" stroke="#6b6b6b" stroke-width="3.4" stroke-linecap="round" stroke-linejoin="miter"/>
<line x1="638.6" y1="237.9" x2="560.9" y2="316.1" stroke="#6b6b6b" stroke-width="3.4" stroke-linecap="round"/>
<polyline points="572.6,313.6 560.1,317.0 563.4,304.4" fill="none" stroke="#6b6b6b" stroke-width="3.4" stroke-linecap="round" stroke-linejoin="miter"/>
<line x1="687.2" y1="237.4" x2="746.5" y2="315.3" stroke="#6b6b6b" stroke-width="3.4" stroke-linecap="round"/>
<polyline points="745.6,303.4 747.2,316.3 735.2,311.3" fill="none" stroke="#6b6b6b" stroke-width="3.4" stroke-linecap="round" stroke-linejoin="miter"/>
<line x1="176.5" y1="353.7" x2="160.0" y2="418.0" stroke="#6b6b6b" stroke-width="3.4" stroke-linecap="round"/>
<polyline points="168.8,409.9 159.7,419.2 156.2,406.7" fill="none" stroke="#6b6b6b" stroke-width="3.4" stroke-linecap="round" stroke-linejoin="miter"/>
<line x1="232.7" y1="353.6" x2="247.2" y2="418.0" stroke="#6b6b6b" stroke-width="3.4" stroke-linecap="round"/>
<polyline points="251.4,406.8 247.5,419.2 238.7,409.7" fill="none" stroke="#6b6b6b" stroke-width="3.4" stroke-linecap="round" stroke-linejoin="miter"/>
<line x1="340.7" y1="353.5" x2="336.3" y2="418.0" stroke="#6b6b6b" stroke-width="3.4" stroke-linecap="round"/>
<polyline points="343.5,408.4 336.2,419.2 330.5,407.5" fill="none" stroke="#6b6b6b" stroke-width="3.4" stroke-linecap="round" stroke-linejoin="miter"/>
<line x1="393.5" y1="354.1" x2="423.5" y2="418.1" stroke="#6b6b6b" stroke-width="3.4" stroke-linecap="round"/>
<polyline points="425.1,406.2 424.0,419.2 413.3,411.8" fill="none" stroke="#6b6b6b" stroke-width="3.4" stroke-linecap="round" stroke-linejoin="miter"/>
<line x1="555.9" y1="354.0" x2="528.9" y2="418.1" stroke="#6b6b6b" stroke-width="3.4" stroke-linecap="round"/>
<polyline points="538.8,411.4 528.4,419.2 526.8,406.3" fill="none" stroke="#6b6b6b" stroke-width="3.4" stroke-linecap="round" stroke-linejoin="miter"/>
<line x1="605.6" y1="353.6" x2="618.3" y2="418.0" stroke="#6b6b6b" stroke-width="3.4" stroke-linecap="round"/>
<polyline points="622.7,406.9 618.5,419.2 610.0,409.4" fill="none" stroke="#6b6b6b" stroke-width="3.4" stroke-linecap="round" stroke-linejoin="miter"/>
<line x1="722.8" y1="353.3" x2="709.3" y2="418.6" stroke="#6b6b6b" stroke-width="3.4" stroke-linecap="round"/>
<polyline points="717.7,410.1 709.1,419.8 705.0,407.5" fill="none" stroke="#6b6b6b" stroke-width="3.4" stroke-linecap="round" stroke-linejoin="miter"/>
<line x1="773.6" y1="353.6" x2="797.6" y2="416.9" stroke="#6b6b6b" stroke-width="3.4" stroke-linecap="round"/>
<polyline points="800.1,405.2 798.0,418.0 787.9,409.8" fill="none" stroke="#6b6b6b" stroke-width="3.4" stroke-linecap="round" stroke-linejoin="miter"/>
<line x1="827.0" y1="354.9" x2="887.2" y2="417.9" stroke="#6b6b6b" stroke-width="3.4" stroke-linecap="round"/>
<polyline points="884.9,406.2 888.0,418.8 875.5,415.1" fill="none" stroke="#6b6b6b" stroke-width="3.4" stroke-linecap="round" stroke-linejoin="miter"/>
<rect x="458.70" y="91.95" width="117.05" height="40.95" fill="#d9d9d9" stroke="#6b6b6b" stroke-width="1.75"/>
<line x1="466.45" y1="91.95" x2="466.45" y2="132.90" stroke="#6b6b6b" stroke-width="1.75"/>
<line x1="513.35" y1="91.95" x2="513.35" y2="132.90" stroke="#6b6b6b" stroke-width="1.75"/>
<line x1="521.10" y1="91.95" x2="521.10" y2="132.90" stroke="#6b6b6b" stroke-width="1.75"/>
<line x1="568.00" y1="91.95" x2="568.00" y2="132.90" stroke="#6b6b6b" stroke-width="1.75"/>
<text x="482.95" y="123.5" class="k">2</text>
<text x="496.85" y="123.5" class="k">0</text>
<line x1="493.9" y1="120.7" x2="500.1" y2="108.9" stroke="#5f5f5f" stroke-width="1.9"/>
<rect x="258.15" y="201.15" width="117.05" height="40.95" fill="#d9d9d9" stroke="#6b6b6b" stroke-width="1.75"/>
<line x1="265.90" y1="201.15" x2="265.90" y2="242.10" stroke="#6b6b6b" stroke-width="1.75"/>
<line x1="312.80" y1="201.15" x2="312.80" y2="242.10" stroke="#6b6b6b" stroke-width="1.75"/>
<line x1="320.55" y1="201.15" x2="320.55" y2="242.10" stroke="#6b6b6b" stroke-width="1.75"/>
<line x1="367.45" y1="201.15" x2="367.45" y2="242.10" stroke="#6b6b6b" stroke-width="1.75"/>
<path d="M277.3 218.3 L282.9 215.4 V232.7" fill="none" stroke="#5f5f5f" stroke-width="2.3" stroke-linejoin="miter"/>
<text x="296.30" y="232.7" class="k">0</text>
<line x1="293.3" y1="229.9" x2="299.5" y2="218.1" stroke="#5f5f5f" stroke-width="1.9"/>
<rect x="632.80" y="201.10" width="117.05" height="40.95" fill="#d9d9d9" stroke="#6b6b6b" stroke-width="1.75"/>
<line x1="640.55" y1="201.10" x2="640.55" y2="242.05" stroke="#6b6b6b" stroke-width="1.75"/>
<line x1="687.45" y1="201.10" x2="687.45" y2="242.05" stroke="#6b6b6b" stroke-width="1.75"/>
<line x1="695.20" y1="201.10" x2="695.20" y2="242.05" stroke="#6b6b6b" stroke-width="1.75"/>
<line x1="742.10" y1="201.10" x2="742.10" y2="242.05" stroke="#6b6b6b" stroke-width="1.75"/>
<text x="657.05" y="232.6" class="k">3</text>
<text x="670.95" y="232.6" class="k">5</text>
<rect x="173.40" y="318.10" width="117.05" height="40.95" fill="#d9d9d9" stroke="#6b6b6b" stroke-width="1.75"/>
<line x1="181.15" y1="318.10" x2="181.15" y2="359.05" stroke="#6b6b6b" stroke-width="1.75"/>
<line x1="228.05" y1="318.10" x2="228.05" y2="359.05" stroke="#6b6b6b" stroke-width="1.75"/>
<line x1="235.80" y1="318.10" x2="235.80" y2="359.05" stroke="#6b6b6b" stroke-width="1.75"/>
<line x1="282.70" y1="318.10" x2="282.70" y2="359.05" stroke="#6b6b6b" stroke-width="1.75"/>
<text x="204.60" y="349.6" class="k">6</text>
<rect x="336.15" y="318.15" width="117.05" height="40.95" fill="#d9d9d9" stroke="#6b6b6b" stroke-width="1.75"/>
<line x1="343.90" y1="318.15" x2="343.90" y2="359.10" stroke="#6b6b6b" stroke-width="1.75"/>
<line x1="390.80" y1="318.15" x2="390.80" y2="359.10" stroke="#6b6b6b" stroke-width="1.75"/>
<line x1="398.55" y1="318.15" x2="398.55" y2="359.10" stroke="#6b6b6b" stroke-width="1.75"/>
<line x1="445.45" y1="318.15" x2="445.45" y2="359.10" stroke="#6b6b6b" stroke-width="1.75"/>
<path d="M355.3 335.2 L360.9 332.3 V349.6" fill="none" stroke="#5f5f5f" stroke-width="2.3" stroke-linejoin="miter"/>
<text x="374.30" y="349.6" class="k">2</text>
<rect x="547.80" y="318.10" width="117.05" height="40.95" fill="#d9d9d9" stroke="#6b6b6b" stroke-width="1.75"/>
<line x1="555.55" y1="318.10" x2="555.55" y2="359.05" stroke="#6b6b6b" stroke-width="1.75"/>
<line x1="602.45" y1="318.10" x2="602.45" y2="359.05" stroke="#6b6b6b" stroke-width="1.75"/>
<line x1="610.20" y1="318.10" x2="610.20" y2="359.05" stroke="#6b6b6b" stroke-width="1.75"/>
<line x1="657.10" y1="318.10" x2="657.10" y2="359.05" stroke="#6b6b6b" stroke-width="1.75"/>
<text x="572.05" y="349.6" class="k">2</text>
<text x="585.95" y="349.6" class="k">3</text>
<rect x="717.50" y="318.10" width="117.05" height="40.95" fill="#d9d9d9" stroke="#6b6b6b" stroke-width="1.75"/>
<line x1="725.25" y1="318.10" x2="725.25" y2="359.05" stroke="#6b6b6b" stroke-width="1.75"/>
<line x1="772.15" y1="318.10" x2="772.15" y2="359.05" stroke="#6b6b6b" stroke-width="1.75"/>
<line x1="779.90" y1="318.10" x2="779.90" y2="359.05" stroke="#6b6b6b" stroke-width="1.75"/>
<line x1="826.80" y1="318.10" x2="826.80" y2="359.05" stroke="#6b6b6b" stroke-width="1.75"/>
<text x="741.75" y="349.6" class="k">3</text>
<text x="755.65" y="349.6" class="k">8</text>
<text x="796.40" y="349.6" class="k">4</text>
<text x="810.30" y="349.6" class="k">4</text>
<rect x="138.90" y="421.30" width="81.20" height="41.00" fill="#d9d9d9" stroke="#6b6b6b" stroke-width="1.65"/>
<line x1="179.50" y1="421.30" x2="179.50" y2="462.30" stroke="#6b6b6b" stroke-width="1.65"/>
<text x="159.20" y="452.4" class="k">3</text>
<text x="199.80" y="452.4" class="k">4</text>
<rect x="227.30" y="421.30" width="81.20" height="41.00" fill="#d9d9d9" stroke="#6b6b6b" stroke-width="1.65"/>
<line x1="267.90" y1="421.30" x2="267.90" y2="462.30" stroke="#6b6b6b" stroke-width="1.65"/>
<text x="247.60" y="452.4" class="k">6</text>
<text x="288.20" y="452.4" class="k">9</text>
<rect x="315.70" y="421.30" width="81.20" height="41.00" fill="#d9d9d9" stroke="#6b6b6b" stroke-width="1.65"/>
<line x1="356.30" y1="421.30" x2="356.30" y2="462.30" stroke="#6b6b6b" stroke-width="1.65"/>
<path d="M323.9 438.0 L329.6 435.1 V452.4" fill="none" stroke="#5f5f5f" stroke-width="2.3" stroke-linejoin="miter"/>
<text x="342.95" y="452.4" class="k">0</text>
<line x1="340.0" y1="449.6" x2="346.2" y2="437.8" stroke="#5f5f5f" stroke-width="1.9"/>
<path d="M364.6 438.0 L370.2 435.1 V452.4" fill="none" stroke="#5f5f5f" stroke-width="2.3" stroke-linejoin="miter"/>
<path d="M378.5 438.0 L384.1 435.1 V452.4" fill="none" stroke="#5f5f5f" stroke-width="2.3" stroke-linejoin="miter"/>
<rect x="404.05" y="421.30" width="81.20" height="41.00" fill="#d9d9d9" stroke="#6b6b6b" stroke-width="1.65"/>
<line x1="444.65" y1="421.30" x2="444.65" y2="462.30" stroke="#6b6b6b" stroke-width="1.65"/>
<path d="M412.3 438.0 L417.9 435.1 V452.4" fill="none" stroke="#5f5f5f" stroke-width="2.3" stroke-linejoin="miter"/>
<text x="431.30" y="452.4" class="k">2</text>
<path d="M452.9 438.0 L458.5 435.1 V452.4" fill="none" stroke="#5f5f5f" stroke-width="2.3" stroke-linejoin="miter"/>
<text x="471.90" y="452.4" class="k">3</text>
<rect x="507.20" y="421.30" width="81.20" height="41.00" fill="#d9d9d9" stroke="#6b6b6b" stroke-width="1.65"/>
<line x1="547.80" y1="421.30" x2="547.80" y2="462.30" stroke="#6b6b6b" stroke-width="1.65"/>
<text x="520.55" y="452.4" class="k">2</text>
<text x="534.45" y="452.4" class="k">0</text>
<line x1="531.5" y1="449.6" x2="537.6" y2="437.8" stroke="#5f5f5f" stroke-width="1.9"/>
<text x="561.15" y="452.4" class="k">2</text>
<text x="575.05" y="452.4" class="k">2</text>
<rect x="598.05" y="421.30" width="81.20" height="41.00" fill="#d9d9d9" stroke="#6b6b6b" stroke-width="1.65"/>
<line x1="638.65" y1="421.30" x2="638.65" y2="462.30" stroke="#6b6b6b" stroke-width="1.65"/>
<text x="611.40" y="452.4" class="k">2</text>
<text x="625.30" y="452.4" class="k">3</text>
<text x="652.00" y="452.4" class="k">3</text>
<path d="M660.8 438.0 L666.4 435.1 V452.4" fill="none" stroke="#5f5f5f" stroke-width="2.3" stroke-linejoin="miter"/>
<rect x="688.70" y="421.30" width="81.20" height="41.00" fill="#d9d9d9" stroke="#6b6b6b" stroke-width="1.65"/>
<line x1="729.30" y1="421.30" x2="729.30" y2="462.30" stroke="#6b6b6b" stroke-width="1.65"/>
<text x="702.05" y="452.4" class="k">3</text>
<text x="715.95" y="452.4" class="k">5</text>
<text x="742.65" y="452.4" class="k">3</text>
<text x="756.55" y="452.4" class="k">6</text>
<rect x="779.05" y="421.30" width="81.20" height="41.00" fill="#d9d9d9" stroke="#6b6b6b" stroke-width="1.65"/>
<line x1="819.65" y1="421.30" x2="819.65" y2="462.30" stroke="#6b6b6b" stroke-width="1.65"/>
<text x="833.00" y="452.4" class="k">4</text>
<path d="M841.8 438.0 L847.4 435.1 V452.4" fill="none" stroke="#5f5f5f" stroke-width="2.3" stroke-linejoin="miter"/>
<rect x="869.95" y="421.30" width="81.20" height="41.00" fill="#d9d9d9" stroke="#6b6b6b" stroke-width="1.65"/>
<line x1="910.55" y1="421.30" x2="910.55" y2="462.30" stroke="#6b6b6b" stroke-width="1.65"/>
<text transform="translate(592.98,123.4) scale(1.011,1)" x="0" y="0" class="lab">A</text>
<text transform="translate(768.01,232.1) scale(0.916,1)" x="0" y="0" class="lab">B</text>
<text transform="translate(680.41,349.6) scale(0.901,1)" x="0" y="0" class="lab">C</text>
<text transform="translate(852.35,349.5) scale(1.040,1)" x="0" y="0" class="lab">D</text>
<text transform="translate(546.99,493.4) scale(0.779,1)" x="0" y="0" class="lab">E</text>
<text transform="translate(637.34,493.4) scale(0.858,1)" x="0" y="0" class="lab">F</text>
<text transform="translate(736.95,493.4) scale(0.918,1)" x="0" y="0" class="lab">G</text>
<text transform="translate(823.22,493.4) scale(1.037,1)" x="0" y="0" class="lab">H</text>
<text transform="translate(907.56,493.4) scale(1.065,1)" x="0" y="0" class="lab">I</text>
<polygon points="714.8,407.7 727.2,384.4 777.3,384.4 788.2,407.7 777.3,431.05 727.2,431.05" fill="#ffffff" stroke="#474866" stroke-width="6.6" stroke-linejoin="miter"/>
<text transform="translate(752,419) scale(0.58,1)" x="0" y="0" class="w">W</text>
<line x1="775" y1="428" x2="795" y2="441.2" stroke="#474866" stroke-width="2.6"/>
<ellipse cx="801.5" cy="440.4" rx="32.2" ry="24.6" fill="none" stroke="#ef444c" stroke-width="5.2"/>
<g transform="translate(797,447.9) rotate(-6)"><path d="M-5.4 -5 V-9.1 A5.4 5.4 0 0 1 5.4 -9.1 V-5" fill="none" stroke="#ef444c" stroke-width="3.2"/><rect x="-8.5" y="-6.4" width="17" height="12.8" rx="1" fill="#ef444c"/><circle cx="-0.4" cy="-2.2" r="1.7" fill="#d9d9d9"/><polygon points="-0.75,-1.6 0.75,-1.6 1.05,3.4 -1.05,3.4" fill="#d9d9d9"/></g>
<polygon points="861.5,441.8 883.7,416.8 883.7,429.3 905.5,429.3 905.5,454.3 883.7,454.3 883.7,466.7" fill="#ef444c"/>
<g fill="none" stroke="#5e5e5e"><ellipse cx="10.6" cy="529.7" rx="7.1" ry="1.6" stroke-width="1.2"/><path d="M3.3 532.7 Q10.6 535.3 17.9 532.7" stroke-width="2.8" stroke-dasharray="7.2 2.9 20"/><path d="M3.3 536.5 Q10.6 539.2 17.9 536.5" stroke-width="2.8" stroke-dasharray="3.4 2.6 20"/><path d="M3.3 540.2 Q10.6 542.9 17.9 540.2" stroke-width="2.8" stroke-dasharray="7.2 2.9 20"/></g>
<text x="21" y="542.8" class="logo" textLength="59" lengthAdjust="spacingAndGlyphs">CMU·DB</text>
<text x="3.2" y="556.4" class="course" textLength="94.3" lengthAdjust="spacingAndGlyphs">15-445/645 (Fall 2022)</text>
<text transform="translate(270.94,42.9) scale(0.783,1)" x="0" y="0" class="ttl" text-anchor="middle">E</text>
<text transform="translate(301.11,42.9) scale(1.027,1)" x="0" y="0" class="ttl" text-anchor="middle">X</text>
<text transform="translate(334.68,42.9) scale(1.040,1)" x="0" y="0" class="ttl" text-anchor="middle">A</text>
<text transform="translate(372.38,42.9) scale(1.095,1)" x="0" y="0" class="ttl" text-anchor="middle">M</text>
<text transform="translate(409.07,42.9) scale(0.927,1)" x="0" y="0" class="ttl" text-anchor="middle">P</text>
<text transform="translate(436.60,42.9) scale(0.791,1)" x="0" y="0" class="ttl" text-anchor="middle">L</text>
<text transform="translate(462.44,42.9) scale(0.789,1)" x="0" y="0" class="ttl" text-anchor="middle">E</text>
<text transform="translate(501.30,42.9) scale(0.988,1)" x="0" y="0" class="ttl" text-anchor="middle">#</text>
<text transform="translate(529.57,42.9) scale(0.974,1)" x="0" y="0" class="ttl" text-anchor="middle">2</text>
<text transform="translate(613.33,42.9) scale(1.047,1)" x="0" y="0" class="ttl" text-anchor="middle">D</text>
<text transform="translate(643.02,42.9) scale(0.770,1)" x="0" y="0" class="ttl" text-anchor="middle">E</text>
<text transform="translate(669.47,42.9) scale(0.803,1)" x="0" y="0" class="ttl" text-anchor="middle">L</text>
<text transform="translate(695.25,42.9) scale(0.768,1)" x="0" y="0" class="ttl" text-anchor="middle">E</text>
<text transform="translate(724.06,42.9) scale(0.923,1)" x="0" y="0" class="ttl" text-anchor="middle">T</text>
<text transform="translate(751.41,42.9) scale(0.791,1)" x="0" y="0" class="ttl" text-anchor="middle">E</text>
<text transform="translate(790.78,42.9) scale(0.964,1)" x="0" y="0" class="ttl" text-anchor="middle">3</text>
<text transform="translate(818.29,42.9) scale(1.013,1)" x="0" y="0" class="ttl" text-anchor="middle">8</text>
<rect x="561" y="28.9" width="16.9" height="4.3" fill="#585858"/>
</svg>
</body></html>
